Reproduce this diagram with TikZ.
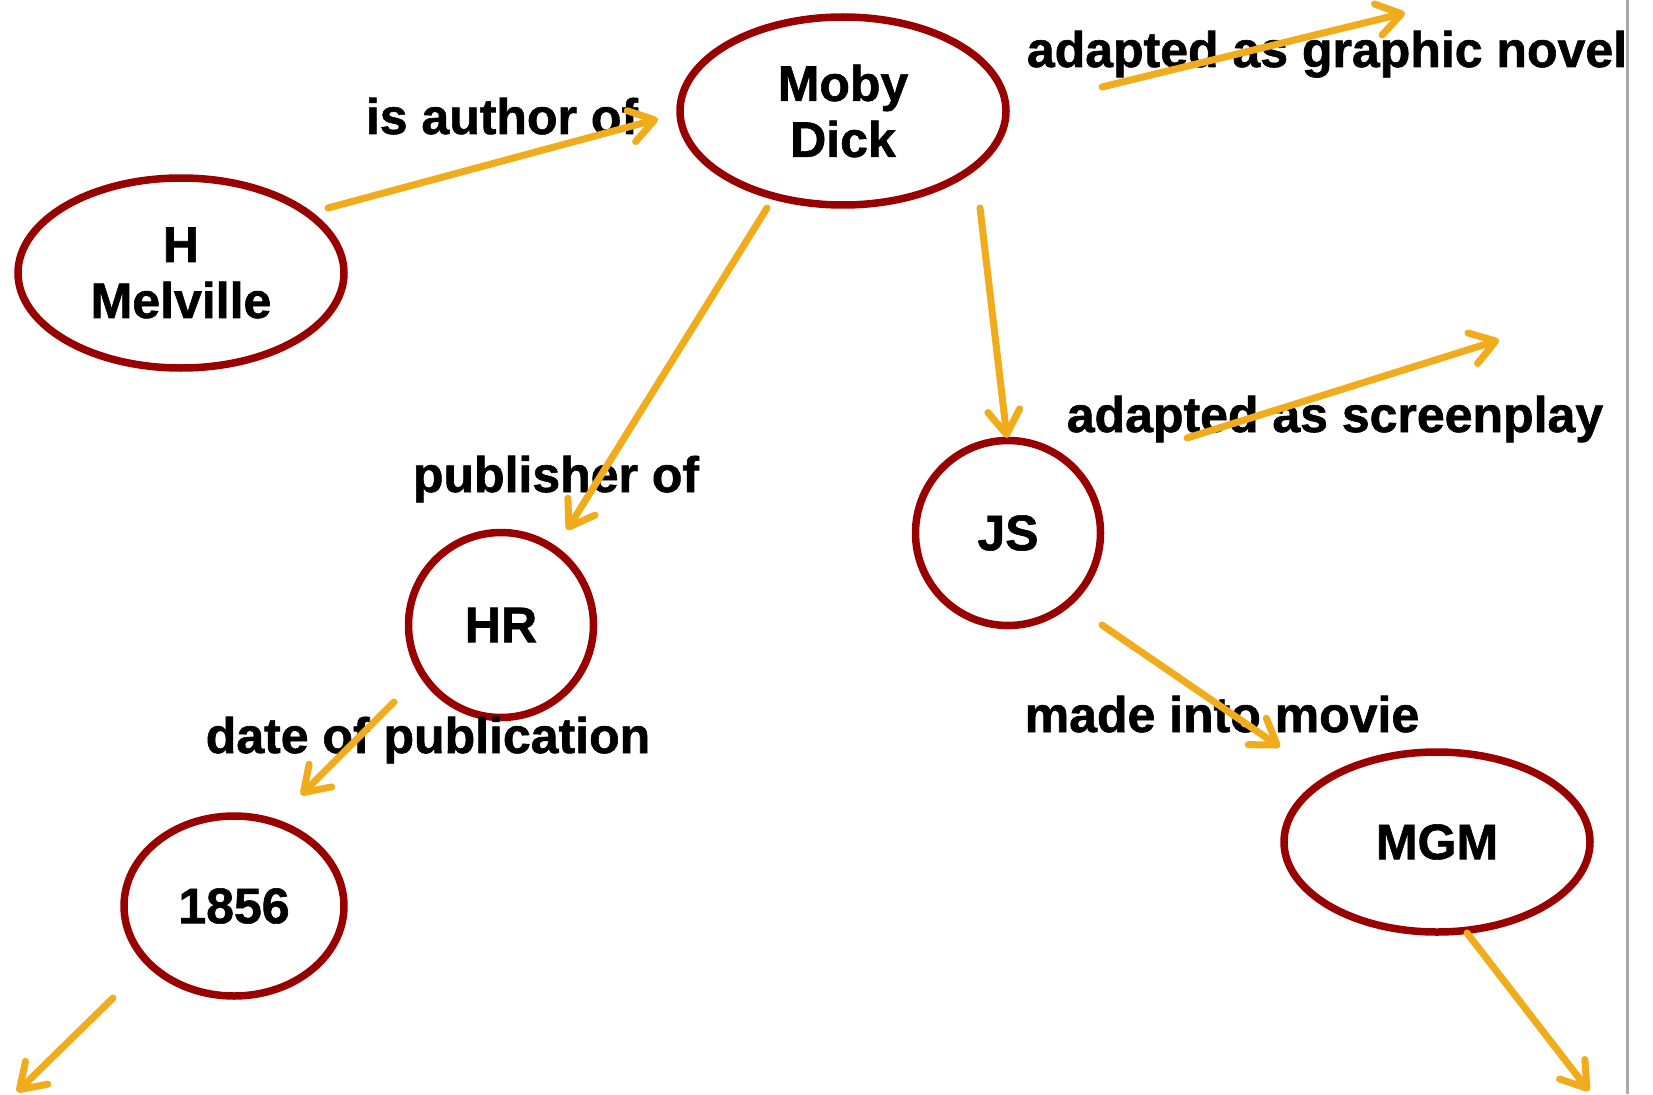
\documentclass[tikz,border=0pt]{standalone}
\usepackage{fontspec}
\setmainfont{Liberation Sans}[BoldFeatures={FakeBold=1.2}]
\usetikzlibrary{shapes.geometric,arrows.meta}
\definecolor{nodered}{RGB}{153,0,0}
\definecolor{arrowgold}{RGB}{240,172,27}
\definecolor{edgegray}{RGB}{170,170,170}
\begin{document}
\begin{tikzpicture}[x=1pt,y=-1pt,
  concept/.style={ellipse, draw=nodered, line width=7.5pt, inner sep=0pt, align=center,
    font=\fontsize{50}{56}\selectfont\bfseries},
  rel/.style={anchor=base, inner sep=0pt, font=\fontsize{50}{56}\selectfont\bfseries},
  link/.style={draw=arrowgold, line width=7pt, line cap=round,
    -{Straight Barb[length=24pt,width=32pt,line cap=round,line join=round]}}]
\useasboundingbox (0,0) rectangle (1653,1094);
\fill[white] (0,0) rectangle (1653,1094);
\draw[edgegray, line width=3pt] (1627,0) -- (1627,1094);

% concepts
\node[concept, minimum width=326pt, minimum height=190pt] (hm) at (181,273) {H\\Melville};
\node[concept, minimum width=326pt, minimum height=188pt] (md) at (843,111) {Moby\\Dick};
\node[concept, minimum width=185pt, minimum height=185pt] (hr) at (501,625) {HR};
\node[concept, minimum width=185pt, minimum height=185pt] (js) at (1008,533) {JS};
\node[concept, minimum width=220pt, minimum height=180pt] (y1856) at (234,906) {1856};
\node[concept, minimum width=306pt, minimum height=180pt] (mgm) at (1437,842) {MGM};

% relation labels
\node[rel] (lauthor) at (502,134) {is author of};
\node[rel] (lpub) at (556,492) {publisher of};
\node[rel] (lgraphic) at (1327,67) {adapted as graphic novel};
\node[rel] (lscreen) at (1335,432) {adapted as screenplay};
\node[rel] (lmovie) at (1222,732) {made into movie};
\node[rel] (ldate) at (428,753) {date of publication};

% connector end points
\coordinate (a1s) at (328,208);  \coordinate (a1e) at (658,119);
\coordinate (a2s) at (767,208);  \coordinate (a2e) at (567,530);
\coordinate (a3s) at (980,208);  \coordinate (a3e) at (1007,438);
\coordinate (a4s) at (1102,87);  \coordinate (a4e) at (1405,13);
\coordinate (a5s) at (1187,438); \coordinate (a5e) at (1499,340);
\coordinate (a6s) at (1102,625); \coordinate (a6e) at (1280,747);
\coordinate (a7s) at (394,702);  \coordinate (a7e) at (301,795);
\coordinate (a8s) at (113,998);  \coordinate (a8e) at (17,1092);
\coordinate (a9s) at (1467,933); \coordinate (a9e) at (1589,1091);

\draw[link] (a1s) -- (a1e);
\draw[link] (a2s) -- (a2e);
\draw[link] (a3s) -- (a3e);
\draw[link] (a4s) -- (a4e);
\draw[link] (a5s) -- (a5e);
\draw[link] (a6s) -- (a6e);
\draw[link] (a7s) -- (a7e);
\draw[link] (a8s) -- (a8e);
\draw[link] (a9s) -- (a9e);
\end{tikzpicture}
\end{document}
